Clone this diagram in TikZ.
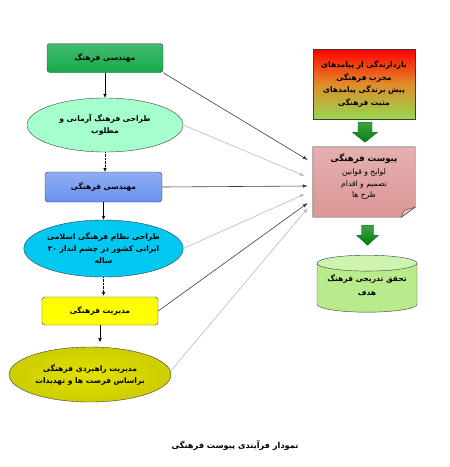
\documentclass[tikz,border=0pt]{standalone}
\usepackage{fontspec}
\usetikzlibrary{shapes.geometric,arrows.meta,calc}
\TeXXeTstate=1
\newfontfamily\arfont[Script=Arabic,BoldFont={DejaVu Sans Bold}]{DejaVu Sans}
\newcommand{\ar}[1]{{\arfont\beginR #1\endR}}
\definecolor{cbA}{RGB}{20,170,75}
\definecolor{ceA}{RGB}{165,255,205}
\definecolor{cbB}{RGB}{105,145,240}
\definecolor{ceB}{RGB}{0,200,240}
\definecolor{cbC}{RGB}{255,255,0}
\definecolor{ceC}{RGB}{205,205,0}
\definecolor{cpink}{RGB}{220,150,150}
\definecolor{cgreenarrow}{RGB}{10,140,20}
\definecolor{cline}{RGB}{60,60,60}
\definecolor{clight}{RGB}{185,185,185}
\tikzset{
  txt/.style={font=\fontsize{7.6}{12}\selectfont\bfseries, align=center, text=black},
  boxA/.style={txt, draw=cline, rounded corners=3pt, inner sep=0pt},
  ell/.style={txt, ellipse, draw=cline, inner sep=0pt},
  vlink/.style={-{Latex[length=4pt,width=3.5pt]}, black},
  dlink/.style={vlink, densely dotted},
  dark/.style={-{Latex[length=5pt,width=3.5pt]}, cline, line width=0.6pt},
  light/.style={-{Latex[length=5pt,width=3.5pt]}, clight, line width=0.6pt},
  blockarrow/.style={draw=cgreenarrow!70!black, top color=cgreenarrow!80!white, bottom color=cgreenarrow!90!black, line width=0.4pt}
}
\begin{document}
\begin{tikzpicture}[x=1pt,y=-1pt]
\useasboundingbox (0,0) rectangle (450,467);

% left column
\node[boxA, top color=cbA!80!white, bottom color=cbA, minimum width=116pt, minimum height=29pt] (b1) at (105,58) {\ar{مهندسی فرهنگ}};
\node[ell, fill=ceA, minimum width=156pt, minimum height=54pt] (e1) at (105,125) {\ar{طراحی فرهنگ آرمانی و}\\\ar{مطلوب}};
\node[boxA, top color=cbB!75!white, bottom color=cbB, minimum width=117pt, minimum height=30pt] (b2) at (103.5,187) {\ar{مهندسی فرهنگی}};
\node[ell, fill=ceB, minimum width=157pt, minimum height=57pt] (e2) at (103.5,248.5) {\ar{طراحی نظام فرهنگی اسلامی}\\\ar{ایرانی کشور در چشم انداز ۲۰}\\\ar{ساله}};
\node[boxA, fill=cbC, minimum width=116pt, minimum height=28pt] (b3) at (100,311) {\ar{مدیریت فرهنگی}};
\node[ell, inner color=ceC!60!yellow, outer color=ceC, minimum width=162pt, minimum height=55pt] (e3) at (90,374.5) {\ar{مدیریت راهبردی فرهنگی}\\\ar{براساس فرصت ها و تهدیدات}};

\draw[vlink] (b1.south) -- (e1.north);
\draw[dlink] (e1.south) -- (e1.south |- b2.north);
\draw[vlink] (b2.south) -- (b2.south |- e2.north);
\draw[dlink] (e2.south) -- ($(e2.south |- b3.north)+(0,-1)$);
\draw[vlink] (b3.south) -- ++(0,17);

% right column
\node[txt, draw=cline, top color=red, bottom color={rgb,255:red,150;green,215;blue,80}, middle color={rgb,255:red,225;green,140;blue,40}, minimum width=102pt, minimum height=70pt, inner sep=0pt, font=\fontsize{7.6}{12.7}\selectfont\bfseries] (g) at (364,84)
  {\ar{بازدارندگی از پیامدهای}\\\ar{مخرب  فرهنگی}\\\ar{پیش برندگی پیامدهای}\\\ar{مثبت فرهنگی}};

\node[txt, minimum width=102pt, minimum height=70pt, inner sep=0pt] (p) at (364,182) {};
\draw[cline, top color=cpink!75!white, bottom color=cpink] (p.north west) -- (p.north east) -- ($(p.south east)+(0,-10)$) -- ($(p.south east)+(-14,0)$) -- (p.south west) -- cycle;
\draw[cline, fill=cpink!60!white] ($(p.south east)+(0,-10)$) -- ($(p.south east)+(-14,0)$) -- ($(p.south east)+(-11,-7)$) -- cycle;
\node[txt, anchor=north, font=\fontsize{7.6}{11.5}\selectfont\bfseries] (pt) at ($(p.north)+(0,3)$) {{\fontsize{8.6}{11}\selectfont\ar{پیوست فرهنگی}}\\[2pt]
  {\mdseries\ar{لوایح و قوانین}}\\{\mdseries\ar{تصمیم و اقدام}}\\{\mdseries\ar{طرح ها}}};

\node[txt, cylinder, shape border rotate=90, aspect=0.2, draw=cline, minimum width=100pt, minimum height=57pt, inner sep=0pt,
  cylinder uses custom fill, cylinder body fill={rgb,255:red,185;green,235;blue,140}, cylinder end fill={rgb,255:red,205;green,245;blue,175}, anchor=north] (c) at (367,255)
  {\phantom{\ar{تحقق تدریجی فرهنگ}}};
\node[txt, font=\fontsize{7.6}{14}\selectfont\bfseries] (ct) at (367,285) {\ar{تحقق تدریجی فرهنگ}\\\ar{هدف}};

\begin{scope}[shift={($(g.south)+(1,3)$)}]
  \draw[blockarrow] (-7,0) -- (7,0) -- (7,10) -- (12.5,10) -- (0,20) -- (-12.5,10) -- (-7,10) -- cycle;
\end{scope}
\begin{scope}[shift={($(p.south)+(3.5,8)$)}]
  \draw[blockarrow] (-6,0) -- (6,0) -- (6,10) -- (11,10) -- (0,20) -- (-11,10) -- (-6,10) -- cycle;
\end{scope}

% connectors into p
\coordinate (t1) at ($(p.west)+(-5,-22)$);
\coordinate (t2) at ($(p.west)+(-8,-6)$);
\coordinate (t3) at ($(p.west)+(-5,4)$);
\coordinate (t4) at ($(p.west)+(-8,12)$);
\coordinate (t5) at ($(p.west)+(-5,21)$);
\coordinate (t6) at ($(p.west)+(-5,26)$);
\draw[dark] (b1.south east) -- (t1);
\draw[light] (e1.east) -- (t2);
\draw[dark] (b2.east) -- (t3);
\draw[light] (e2.east) -- (t4);
\draw[dark] (b3.east) -- (t5);
\draw[light] ($(e3.east)+(0,-4)$) -- (t6);

\node[txt, font=\fontsize{8.2}{9}\selectfont\bfseries] (cap) at (235,446) {\ar{نمودار فرآیندی پیوست فرهنگی}};
\end{tikzpicture}
\end{document}
